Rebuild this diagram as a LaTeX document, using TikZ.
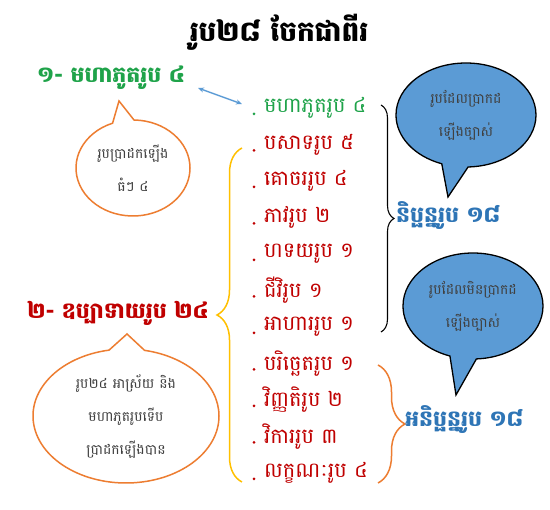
\documentclass[tikz,border=0pt]{standalone}
\usepackage{fontspec}
\newfontfamily\kh[Script=Khmer]{Battambang}
\usetikzlibrary{shapes.callouts,decorations.pathreplacing,arrows.meta}
\definecolor{kgreen}{HTML}{1FA34A}
\definecolor{kred}{HTML}{C00000}
\definecolor{kblue}{HTML}{2E75B6}
\definecolor{karrow}{HTML}{5B9BD5}
\definecolor{kfill}{HTML}{5B9BD5}
\definecolor{korange}{HTML}{ED7D31}
\definecolor{kgold}{HTML}{FFC000}
\definecolor{ktext}{HTML}{404040}
\tikzset{
  heading/.style={inner sep=0pt, font=\kh\bfseries\fontsize{22}{26}\selectfont},
  item/.style={anchor=west, inner sep=0pt, font=\kh\fontsize{21}{24}\selectfont},
  brc/.style={decorate, decoration={brace, amplitude=#1}},
  bubble/.style={ellipse callout, inner sep=0pt, align=center, text=ktext,
    font=\kh\fontsize{14}{33}\selectfont, callout pointer arc=22},
  orangebubble/.style={bubble, draw=korange, line width=1.5pt, fill=white},
  bluebubble/.style={bubble, draw=black, line width=1.3pt, fill=kfill},
}
\begin{document}
\begin{tikzpicture}[x=1pt,y=-1pt]
\useasboundingbox (0,0) rectangle (550,510);
\fill[white] (0,0) rectangle (550,510);

\node[inner sep=0pt, font=\kh\bfseries\fontsize{28}{32}\selectfont] (title) at (279,32) {រូប២៨ ចែកជាពីរ};

\node[heading, text=kgreen] (maha) at (111,78) {១- មហាភូតរូប ៤};
\node[heading, text=kred] (upa) at (118,313) {២- ឧប្បាទាយរូប ២៤};

\node[item, text=kgreen] (i1) at (264,108) {មហាភូតរូប ៤};
\node[item, text=kred] (i2) at (264,144.5) {បសាទរូប ៥};
\node[item, text=kred] (i3) at (264,181) {គោចររូប ៤};
\node[item, text=kred] (i4) at (264,217.5) {ភាវរូប ២};
\node[item, text=kred] (i5) at (264,254) {ហទយរូប ១};
\node[item, text=kred] (i6) at (264,290.5) {ជីវិរូប ១};
\node[item, text=kred] (i7) at (264,327) {អាហាររូប ១};
\node[item, text=kred] (i8) at (264,363.5) {បរិច្ឆេតរូប ១};
\node[item, text=kred] (i9) at (264,400) {វិញ្ញតិរូប ២};
\node[item, text=kred] (i10) at (264,436.5) {វិការរូប ៣};
\node[item, text=kred] (i11) at (264,473) {លក្ខណៈរូប ៤};

\fill[kgreen] (254,114) circle (1.5);
\foreach \yy in {150.5,187,223.5,260,296.5,333,369.5,406,442.5,479}
  \fill[kred] (254,\yy) circle (1.5);

\coordinate (a1) at (198,88);
\coordinate (a2) at (242,104);
\draw[karrow, line width=1.4pt, {Stealth[length=6pt,width=5pt]}-{Stealth[length=6pt,width=5pt]}] (a1) -- (a2);

\draw[brc=13pt, black, line width=1.1pt] (381,105) -- (381,332);
\draw[brc=25pt, kgold, line width=1.5pt] (242,482) -- (242,148);
\draw[brc=27pt, korange, line width=1.5pt] (378,365) -- (378,483);

\node[heading, text=kblue, anchor=west] (nip) at (396,216) {និប្ផន្នរូប ១៨};
\node[heading, text=kblue, anchor=west] (anip) at (405,420) {អនិប្ផន្នរូប ១៨};

\node[orangebubble, minimum width=114pt, minimum height=96pt,
  callout absolute pointer={(119,101)}] (c1) at (133,168) {រូបប្រាដកឡើង\\ធំៗ ៤};
\node[orangebubble, minimum width=186pt, minimum height=134pt,
  callout absolute pointer={(127,334)}] (c2) at (126,416) {រូប២៤ អាស្រ័យ និង\\មហាភូតរូបទើប\\ប្រាដកឡើងបាន};
\node[bluebubble, minimum width=140pt, minimum height=104pt,
  callout absolute pointer={(448,197)}] (c3) at (466,115) {រូបដែលប្រាកដ\\ឡើងច្បាស់};
\node[bluebubble, minimum width=140pt, minimum height=106pt,
  callout absolute pointer={(456,395)}] (c4) at (473,306) {រូបដែលមិនប្រាកដ\\ឡើងច្បាស់};
\end{tikzpicture}
\end{document}
